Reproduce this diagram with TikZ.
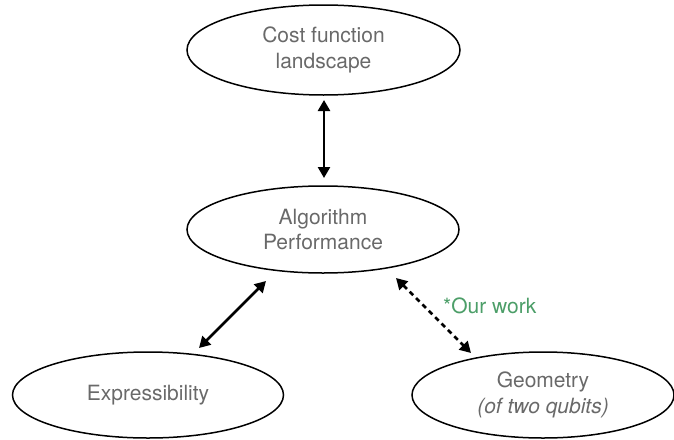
\documentclass[tikz,border=0pt]{standalone}
\usepackage{fontspec}
\setmainfont{TeX Gyre Heros}
\usetikzlibrary{shapes.geometric,arrows.meta}
\definecolor{txtgray}{RGB}{105,105,105}
\definecolor{workgreen}{RGB}{76,158,104}
\begin{document}
\begin{tikzpicture}[x=1pt,y=-1pt,
  oval/.style={ellipse,draw=black,line width=1.5pt,inner sep=0pt,align=center,
    text=txtgray,font=\fontsize{21}{25.5}\selectfont},
  biarrow/.style={line width=2.5pt,{Triangle[length=11pt,width=12pt]}-{Triangle[length=11pt,width=12pt]}},
  dasharrow/.style={biarrow,dash pattern=on 5pt off 4pt}
]
\useasboundingbox (0,0) rectangle (674,439);
\node[oval,minimum width=273pt,minimum height=90pt] (cost) at (323.5,50) {Cost function\\landscape};
\node[oval,minimum width=272pt,minimum height=87pt] (alg) at (323,229.5) {Algorithm\\Performance};
\node[oval,minimum width=271pt,minimum height=86pt] (expr) at (148,395) {Expressibility};
\node[oval,minimum width=262pt,minimum height=86pt] (geo) at (543,395) {Geometry\\\textit{(of two qubits)}};
\draw[biarrow] ([shift={(0.5,50)}]cost.center) -- ([shift={(1,-51.5)}]alg.center);
\draw[biarrow] ([shift={(-57,51.5)}]alg.center) -- ([shift={(51,-47)}]expr.center);
\draw[dasharrow] ([shift={(73,48.5)}]alg.center) -- ([shift={(-72,-42)}]geo.center);
\node[anchor=west,text=workgreen,font=\fontsize{21}{25.5}\selectfont,inner sep=0pt] (work) at (443,306) {*Our work};
\end{tikzpicture}
\end{document}
